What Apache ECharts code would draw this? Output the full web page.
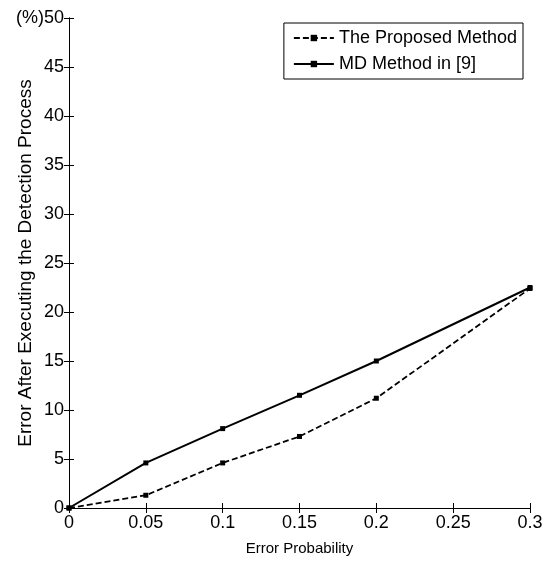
<!DOCTYPE html>
<html>
<head>
<meta charset="utf-8">
<script src="https://cdn.jsdelivr.net/npm/echarts@6/dist/echarts.min.js"></script>
<style>
  html, body { margin: 0; padding: 0; background: #fff; }
  #main { width: 548px; height: 561px; }
</style>
</head>
<body>
<div id="main"></div>
<script>
// error probability on x
const errProb = [0, 0.05, 0.1, 0.15, 0.2, 0.3];
// error after detection, in %
const proposed = [0, 1.3, 4.6, 7.3, 11.2, 22.4];
const mdMethod = [0, 4.6, 8.1, 11.5, 15.0, 22.5];
const seriesNames = ['The Proposed Method', 'MD Method in [9]'];

const font = 'Liberation Sans, Arial, sans-serif';

function pairs(xs, ys) {
  return xs.map((x, i) => [x, ys[i]]);
}

const chart = echarts.init(document.getElementById('main'));

const lineAxis = { show: true, lineStyle: { color: '#000', width: 1 } };
const tickIn = { show: true, inside: true, length: 5, lineStyle: { color: '#000' } };

chart.setOption({
  animation: false,
  grid: { left: 69, right: 18, top: 18, bottom: 53, outerBoundsMode: 'none', containLabel: false },
  legend: {
    data: seriesNames,
    orient: 'vertical',
    right: 25,
    top: 23,
    itemWidth: 40,
    itemHeight: 8,
    itemGap: 8,
    padding: [6, 6, 6, 9],
    borderColor: '#000',
    borderWidth: 1,
    backgroundColor: '#fff',
    textStyle: { fontFamily: font, fontSize: 18, color: '#000' }
  },
  xAxis: [
    {
      type: 'value',
      min: 0, max: 0.3, interval: 0.05,
      name: 'Error Probability',
      nameLocation: 'middle',
      nameGap: 33,
      nameMoveOverlap: false,
      nameTextStyle: { fontFamily: font, fontSize: 15, color: '#000' },
      axisLine: lineAxis,
      axisTick: tickIn,
      splitLine: { show: false },
      axisLabel: {
        fontFamily: font, fontSize: 18, color: '#000', margin: 6,
        formatter: v => String(Math.round(v * 100) / 100)
      }
    },
    {
      type: 'value', position: 'top',
      min: 0, max: 0.3, interval: 0.05,
      axisLine: lineAxis, axisTick: tickIn,
      axisLabel: { show: false }, splitLine: { show: false }
    }
  ],
  yAxis: [
    {
      type: 'value',
      min: 0, max: 50, interval: 5,
      name: 'Error After Executing the Detection Process',
      nameLocation: 'middle',
      nameGap: 34,
      nameMoveOverlap: false,
      nameTextStyle: { fontFamily: font, fontSize: 19, color: '#000' },
      axisLine: lineAxis,
      axisTick: tickIn,
      splitLine: { show: false },
      axisLabel: {
        fontFamily: font, fontSize: 18, color: '#000', margin: 5,
        formatter: v => v === 50 ? '(%)50' : String(v)
      }
    },
    {
      type: 'value', position: 'right',
      min: 0, max: 50, interval: 5,
      axisLine: lineAxis, axisTick: tickIn,
      axisLabel: { show: false }, splitLine: { show: false }
    }
  ],
  series: [
    {
      name: seriesNames[0],
      type: 'line',
      data: pairs(errProb, proposed),
      symbol: 'rect',
      symbolSize: 5,
      itemStyle: { color: '#000' },
      lineStyle: { color: '#000', width: 1.8, type: [6, 3] }
    },
    {
      name: seriesNames[1],
      type: 'line',
      data: pairs(errProb, mdMethod),
      symbol: 'rect',
      symbolSize: 5,
      itemStyle: { color: '#000' },
      lineStyle: { color: '#000', width: 2 }
    }
  ]
});
</script>
</body>
</html>
